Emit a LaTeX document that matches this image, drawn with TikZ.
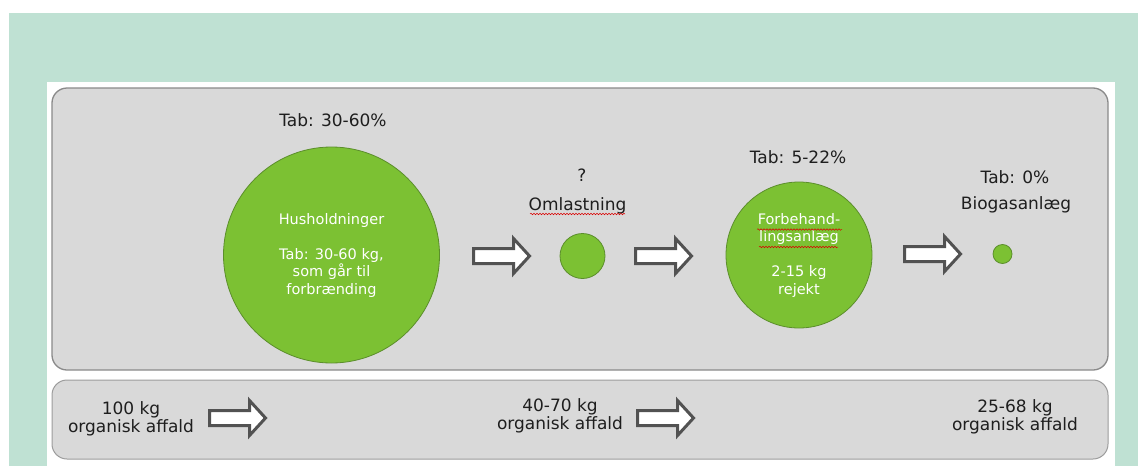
\documentclass[tikz,border=0pt]{standalone}
\usepackage{fontspec}
\setmainfont{DejaVu Sans}
\usetikzlibrary{decorations.pathmorphing}

\definecolor{mint}{HTML}{BFE1D3}
\definecolor{panel}{HTML}{D9D9D9}
\definecolor{paneledge}{HTML}{8A8A8A}
\definecolor{leaf}{HTML}{7CC133}
\definecolor{leafedge}{HTML}{5B8E2B}
\definecolor{arrowedge}{HTML}{525252}
\definecolor{ink}{HTML}{1E1E1E}

\begin{document}
\begin{tikzpicture}[x=1pt,y=-1pt,
  panelbox/.style={draw=paneledge, fill=panel, rounded corners=15pt, line width=1.3pt},
  stage/.style={circle, draw=leafedge, fill=leaf, line width=0.8pt, inner sep=0pt,
                text=white, align=center, font=\fontsize{14.5}{17.5}\selectfont},
  caption/.style={text=ink, inner sep=0pt, font=\fontsize{17}{18}\selectfont},
  amount/.style={text=ink, inner sep=0pt, align=center, font=\fontsize{17}{18}\selectfont},
  spell/.style={draw=red!85!black, line width=0.5pt, decorate,
                decoration={snake, amplitude=0.8pt, segment length=3pt}},
  blockarrow/.pic={
    \draw[line width=3pt, draw=arrowedge, fill=white, line join=miter]
      (0,-7.5) -- (40,-7.5) -- (40,-17.5) -- (56,0) -- (40,17.5) -- (40,7.5) -- (0,7.5) -- cycle;
  }
]
\useasboundingbox (0,0) rectangle (1138,466);

% page background and white sheet
\fill[mint] (9,13) rectangle (1138,466);
\fill[white] (47,82) rectangle (1115,466);

% the two grey panels
\draw[panelbox] (52,88) rectangle (1108,370);
\draw[panelbox, draw=paneledge!85!white, line width=1pt] (52,380) rectangle (1108,459);

% process stages
\node[stage, minimum size=216pt] (hus) at (331.5,255)
  {Husholdninger\\[17.5pt]Tab: 30-60 kg,\\som går til\\forbrænding};
\node[stage, minimum size=45pt] (oml) at (582.5,256) {};
\node[stage, minimum size=146pt] (forb) at (799,255)
  {Forbehand-\\lingsanlæg\\[17.5pt]2-15 kg\\rejekt};
\node[stage, minimum size=19pt] (bio) at (1002.5,254) {};

% stage captions
\node[caption] (tabhus) at (333,120) {Tab: 30-60\%};
\node[caption] (qoml) at (582,175) {?};
\node[caption] (namoml) at (577.5,206) {Omlastning};
\node[caption] (tabforb) at (798,157) {Tab: 5-22\%};
\node[caption] (tabbio) at (1015,177) {Tab: 0\%};
\node[caption] (nambio) at (1016,205) {Biogasanlæg};

% spell-check marks
\draw[spell] (530,214) -- (625,214);
\draw[spell] (757,229.5) -- (842,229.5);
\draw[spell] (759,247) -- (838,247);

% block arrows between the stages
\pic (a1) at (473.5,256) {blockarrow};
\pic (a2) at (635.5,256) {blockarrow};
\pic (a3) at (904.5,254) {blockarrow};

% amounts of organic waste
\node[amount] (m1) at (131,419) {100 kg\\organisk affald};
\node[amount] (m2) at (560,416) {40-70 kg\\organisk affald};
\node[amount] (m3) at (1015,417) {25-68 kg\\organisk affald};
\pic (a4) at (209.5,418) {blockarrow};
\pic (a5) at (637.5,418) {blockarrow};
\end{tikzpicture}
\end{document}
